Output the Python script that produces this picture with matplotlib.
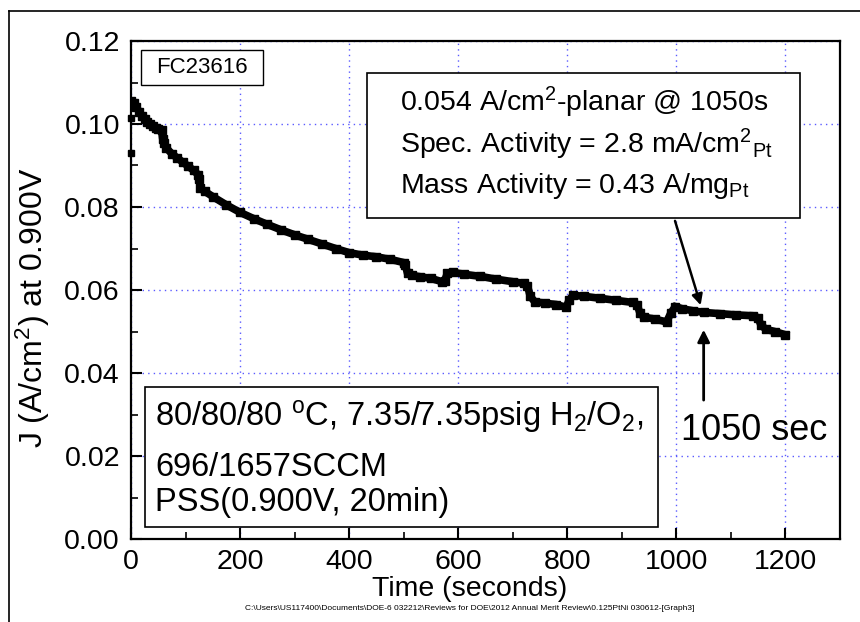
import matplotlib
matplotlib.use("Agg")
import matplotlib.pyplot as plt
from matplotlib.patches import Rectangle
from matplotlib.lines import Line2D
from matplotlib.ticker import MultipleLocator

plt.rcParams['font.family'] = ['Liberation Sans', 'DejaVu Sans']
plt.rcParams['mathtext.fontset'] = 'custom'
plt.rcParams['mathtext.rm'] = 'Liberation Sans'
plt.rcParams['mathtext.it'] = 'Liberation Sans'
plt.rcParams['mathtext.default'] = 'regular'

# ---- data ----
time_s = [0, 5, 10, 15, 20, 25, 30, 35, 40, 45, 50, 56,
          58, 60, 65, 75, 85, 95, 105, 115, 123, 125,
          127, 135, 150, 175, 200, 225, 250, 275, 300, 325, 350, 375, 400,
          425, 450, 475, 500, 503,
          507, 515, 530, 550, 570, 575, 580, 590, 610, 640, 670, 700, 720, 727,
          732, 740, 760, 780, 798, 803, 810, 830, 860, 890, 920, 928,
          933, 940, 960, 982, 990, 998, 1010, 1030, 1050, 1080, 1110, 1140, 1150,
          1155, 1165, 1180, 1200]
current = [0.1055, 0.1050, 0.1040, 0.1030, 0.1020, 0.1012, 0.1005, 0.0999, 0.0995, 0.0991, 0.0988, 0.0986,
           0.0965, 0.0955, 0.0942, 0.0928, 0.0918, 0.0908, 0.0898, 0.0888, 0.0878, 0.0868,
           0.0845, 0.0838, 0.0825, 0.0805, 0.0787, 0.0772, 0.0758, 0.0745, 0.0733, 0.0722, 0.0711, 0.0700, 0.0690,
           0.0684, 0.0680, 0.0674, 0.0666, 0.0660,
           0.0640, 0.0635, 0.0632, 0.0628, 0.0620, 0.0622, 0.0640, 0.0643, 0.0638, 0.0633, 0.0626, 0.0620, 0.0616, 0.0610,
           0.0585, 0.0572, 0.0568, 0.0565, 0.0558, 0.0575, 0.0587, 0.0585, 0.0580, 0.0575, 0.0570, 0.0565,
           0.0545, 0.0535, 0.0530, 0.0523, 0.0545, 0.0560, 0.0555, 0.0550, 0.0546, 0.0543, 0.0540, 0.0538, 0.0533,
           0.0515, 0.0505, 0.0500, 0.0492]
stray_t = [0, 0]
stray_j = [0.1015, 0.0930]

x_ticks = [0, 200, 400, 600, 800, 1000, 1200]
y_ticks = [0.00, 0.02, 0.04, 0.06, 0.08, 0.10, 0.12]
y_tick_labels = ['0.00', '0.02', '0.04', '0.06', '0.08', '0.10', '0.12']

fig = plt.figure(figsize=(8.6, 6.22), dpi=100)
ax = fig.add_axes([131/860, 1-539/622, (840-131)/860, (539-41)/622])

# outer frame (top and left)
fig.add_artist(Line2D([9/860, 1.0], [1-11/622, 1-11/622], color='black', lw=1.2, transform=fig.transFigure))
fig.add_artist(Line2D([9/860, 9/860], [0.0, 1-11/622], color='black', lw=1.2, transform=fig.transFigure))

ax.plot(time_s, current, color='black', lw=5.5, solid_joinstyle='miter', zorder=3)
ax.plot(time_s, current, 's', color='black', ms=6, zorder=3)
ax.plot(stray_t, stray_j, 's', color='black', ms=4, zorder=3, clip_on=False)

ax.set_xlim(0, 1300)
ax.set_ylim(0, 0.12)
ax.set_xticks(x_ticks)
ax.set_yticks(y_ticks)
ax.set_yticklabels(y_tick_labels)
ax.xaxis.set_minor_locator(MultipleLocator(100))
ax.yaxis.set_minor_locator(MultipleLocator(0.01))
ax.tick_params(axis='both', which='major', direction='in', length=8, width=1.5, labelsize=20.5, pad=8)
ax.tick_params(axis='x', which='major', pad=7)
ax.tick_params(axis='both', which='minor', direction='in', length=5, width=1.2)
for s in ax.spines.values():
    s.set_linewidth(1.6)

ax.grid(True, which='major', color='#5a5aff', linestyle=(0, (1, 3)), lw=1.0, zorder=0)

ax.set_xlabel('Time (seconds)', fontsize=20.5)
ax.set_ylabel('J (A/cm$^{2}$) at 0.900V', fontsize=23)
ax.xaxis.set_label_coords(0.478, -0.074)
ax.yaxis.set_label_coords(-0.112, 0.464)

# FC label box
ax.add_patch(Rectangle((18, 0.1094), 224, 0.0084, fill=True, facecolor='white', edgecolor='black', lw=1.0, zorder=4))
ax.text(130, 0.1136, 'FC23616', fontsize=16, ha='center', va='center', zorder=5)

# info box
ax.add_patch(Rectangle((432, 0.0773), 795, 0.035, facecolor='white', edgecolor='black', lw=1.2, zorder=4))
ax.text(493, 0.1051, '0.054 A/cm$^{2}$-planar @ 1050s', fontsize=20.5, ha='left', va='center', zorder=5)
ax.text(493, 0.0951, 'Spec. Activity = 2.8 mA/cm$^{2}$$_{Pt}$', fontsize=20.5, ha='left', va='center', zorder=5)
ax.text(493, 0.0851, 'Mass Activity = 0.43 A/mg$_{Pt}$', fontsize=20.5, ha='left', va='center', zorder=5)
ax.annotate('', xy=(1046, 0.0557), xytext=(996, 0.0773),
            arrowprops=dict(arrowstyle='-|>', color='black', lw=1.8, mutation_scale=16), zorder=5)

# conditions box
ax.add_patch(Rectangle((25.6, 0.0029), 941, 0.0337, facecolor='white', edgecolor='black', lw=1.2, zorder=4))
ax.text(44, 0.0294, '80/80/80 $^{o}$C, 7.35/7.35psig H$_{2}$/O$_{2}$,', fontsize=23.5, ha='left', va='center', zorder=5)
ax.text(44, 0.0173, '696/1657SCCM', fontsize=23.5, ha='left', va='center', zorder=5)
ax.text(44, 0.0087, 'PSS(0.900V, 20min)', fontsize=23.5, ha='left', va='center', zorder=5)

# 1050 sec arrow
ax.annotate('', xy=(1050, 0.0511), xytext=(1050, 0.0328),
            arrowprops=dict(arrowstyle='-|>', color='black', lw=2.0, mutation_scale=18), zorder=5)
ax.text(1008, 0.0262, '1050 sec', fontsize=26, ha='left', va='center', zorder=5)

fig.text(470/860, 1-609/622,
         'C:\\Users\\US117400\\Documents\\DOE-6 032212\\Reviews for DOE\\2012 Annual Merit Review\\0.125PtNi 030612-[Graph3]',
         fontsize=6.0, ha='center', va='center')

fig.savefig('out.png', dpi=100)
